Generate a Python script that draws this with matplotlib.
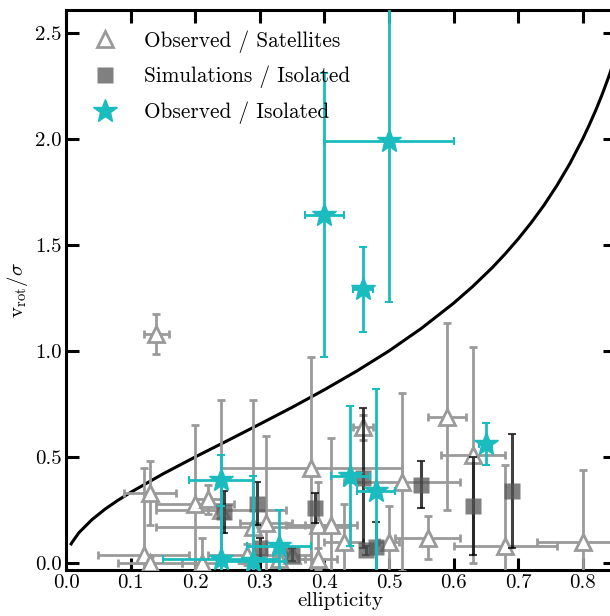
import matplotlib
matplotlib.use('Agg')
import matplotlib.pyplot as plt
from matplotlib.ticker import FormatStrFormatter

plt.rcParams['font.family'] = 'cmr10'
plt.rcParams['mathtext.fontset'] = 'cm'
plt.rcParams['axes.formatter.use_mathtext'] = True

# model curve
curve_e = [0.008, 0.01, 0.02, 0.04, 0.06, 0.08, 0.10, 0.15, 0.20, 0.25, 0.30, 0.35, 0.40,
           0.45, 0.50, 0.55, 0.60, 0.63, 0.66, 0.68, 0.70, 0.72, 0.74, 0.76, 0.78,
           0.80, 0.81, 0.82, 0.83, 0.84, 0.85]
curve_v = [0.09, 0.10, 0.143, 0.204, 0.253, 0.295, 0.333, 0.420, 0.50, 0.577, 0.655, 0.734, 0.817,
           0.905, 1.00, 1.106, 1.225, 1.305, 1.393, 1.458, 1.528, 1.604, 1.687, 1.780, 1.883,
           2.00, 2.065, 2.134, 2.209, 2.291, 2.381]

# Observed / Satellites
sat_e = [0.14, 0.59, 0.46, 0.38, 0.52, 0.56, 0.68, 0.80, 0.63, 0.50, 0.43, 0.39, 0.41,
         0.39, 0.12, 0.13, 0.20, 0.22, 0.13, 0.21, 0.29, 0.31, 0.24, 0.33, 0.28, 0.35]
sat_v = [1.08, 0.69, 0.64, 0.45, 0.38, 0.12, 0.08, 0.10, 0.51, 0.10, 0.10, 0.18, 0.18,
         0.02, 0.04, 0.33, 0.28, 0.30, 0.00, 0.00, 0.17, 0.19, 0.25, 0.02, 0.04, 0.04]
sat_e_err = [0.02, 0.03, 0.015, 0.14, 0.09, 0.05, 0.08, 0.07, 0.05, 0.015, 0.03, 0.05, 0.04,
             0.03, 0.07, 0.04, 0.06, 0.02, 0.05, 0.03, 0.15, 0.04, 0.10, 0.04, 0.06, 0.03]
sat_v_err = [0.095, 0.44, 0.06, 0.52, 0.42, 0.10, 0.38, 0.34, 0.51, 0.17, 0.18, 0.20, 0.41,
             0.05, 0.41, 0.15, 0.37, 0.07, 0.03, 0.12, 0.60, 0.41, 0.52, 0.04, 0.05, 0.03]

# Simulations / Isolated
sim_e = [0.245, 0.295, 0.30, 0.35, 0.385, 0.46, 0.465, 0.48, 0.55, 0.63, 0.69]
sim_v = [0.24, 0.28, 0.07, 0.04, 0.26, 0.40, 0.06, 0.075, 0.37, 0.27, 0.34]
sim_v_err = [0.10, 0.10, 0.05, 0.03, 0.07, 0.33, 0.02, 0.12, 0.11, 0.23, 0.27]

# Observed / Isolated
iso_e = [0.50, 0.40, 0.46, 0.65, 0.44, 0.48, 0.24, 0.24, 0.29, 0.33]
iso_v = [1.99, 1.64, 1.29, 0.56, 0.41, 0.34, 0.39, 0.02, 0.01, 0.08]
iso_e_err = [0.10, 0.03, 0.015, 0.01, 0.03, 0.03, 0.05, 0.09, 0.05, 0.05]
iso_v_err = [0.76, 0.67, 0.20, 0.10, 0.33, 0.48, 0.12, 0.25, 0.40, 0.17]

cyan = '#1bbcbf'
grey = '#9a9a9a'

fig = plt.figure(figsize=(6.10, 6.16), dpi=100)
ax = fig.add_axes([66 / 610, 1 - 570 / 616, (615 - 66) / 610, 560 / 616])

ax.plot(curve_e, curve_v, '-', color='black', lw=2.2, zorder=2)

ax.errorbar(sat_e, sat_v, xerr=sat_e_err, yerr=sat_v_err, fmt='^', ms=12,
            mfc='white', mec=grey, mew=2, ecolor=grey, elinewidth=2,
            capsize=3, capthick=1.5, zorder=3, label='Observed / Satellites')
ax.errorbar(sim_e, sim_v, yerr=sim_v_err, fmt='s', ms=11, color='#555555',
            alpha=0.75, mec='none', ecolor='black', elinewidth=2.2,
            capsize=3, capthick=1.5, zorder=4, label='Simulations / Isolated')
ax.errorbar(iso_e, iso_v, xerr=iso_e_err, yerr=iso_v_err, fmt='*', ms=18,
            color=cyan, mec=cyan, ecolor=cyan, elinewidth=2,
            capsize=3, capthick=1.5, zorder=5, label='Observed / Isolated')

ax.set_xlim(0, 0.85)
ax.set_ylim(-0.033, 2.608)
ax.set_xticks([0.0, 0.1, 0.2, 0.3, 0.4, 0.5, 0.6, 0.7, 0.8])
ax.set_yticks([0.0, 0.5, 1.0, 1.5, 2.0, 2.5])
ax.xaxis.set_major_formatter(FormatStrFormatter('%.1f'))
ax.yaxis.set_major_formatter(FormatStrFormatter('%.1f'))
ax.tick_params(direction='in', length=9, width=2.2, top=True, right=True,
               labelsize=15, pad=3)
for s in ax.spines.values():
    s.set_linewidth(2.2)

ax.set_xlabel('ellipticity', fontsize=15, labelpad=0)
ax.set_ylabel(r'$\mathrm{v_{rot}}/\sigma$', fontsize=15, labelpad=4)

h, l = ax.get_legend_handles_labels()
h = [x[0] for x in h]
ax.legend(h, l, loc='upper left', frameon=False, fontsize=15.3,
          handletextpad=0.9, labelspacing=0.62, borderaxespad=0.55,
          handlelength=1.8, bbox_to_anchor=(0.0, 1.0))

fig.savefig('out.png', dpi=100)
